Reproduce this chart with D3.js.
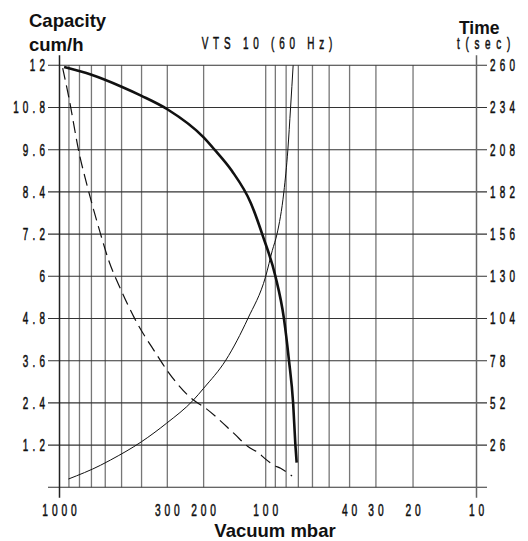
<!DOCTYPE html>
<html><head><meta charset="utf-8">
<script src="https://cdn.jsdelivr.net/npm/d3@7"></script>
<style>body{margin:0;background:#fff}svg{display:block}</style>
</head><body><svg id="c" width="528" height="541"></svg>
<script>
// ---- data ----
const capacityTicks = [1.2, 2.4, 3.6, 4.8, 6, 7.2, 8.4, 9.6, 10.8, 12];
const capacityLabels = ["1.2", "2.4", "3.6", "4.8", "6", "7.2", "8.4", "9.6", "10.8", "12"];
const timeTicks = [26, 52, 78, 104, 130, 156, 182, 208, 234, 260];
const vacuumLabels = [1000, 300, 200, 100, 40, 30, 20, 10];
const vacuumGrid = [900, 800, 700, 600, 500, 400, 300, 200, 100, 90, 80, 70, 60, 50, 40, 30, 20];

// capacity (cum/h) vs vacuum (mbar) – thick curve
const capVacuum = [950, 700, 500, 400, 300, 200, 177, 146, 118, 103, 90, 82, 77.6, 74.1, 72.3, 71.3];
const capValues = [11.95, 11.73, 11.39, 11.13, 10.75, 9.95, 9.6, 9.0, 8.08, 7.13, 6.01, 4.81, 3.62, 2.39, 1.2, 0.7];

// dashed curve (capacity scale)
const dashVacuum = [965, 900, 800, 736, 632, 578, 503, 433, 341, 298, 224, 200, 143, 122, 108, 101.5, 91.5, 85, 75];
const dashValues = [11.92, 11.07, 9.46, 8.6, 7.2, 6.46, 5.61, 4.81, 3.81, 3.29, 2.48, 2.29, 1.54, 1.16, 0.97, 0.83, 0.63, 0.54, 0.32];

// time t (sec) vs vacuum – thin curve
const timeVacuum = [905, 632, 566, 400, 303, 224, 200, 156, 122, 100, 93, 88.4, 82, 78.5, 76.2, 74.1];
const timeValues = [5.1, 13.6, 16.8, 28.1, 39.4, 53.8, 61, 78.4, 104, 130, 146, 156, 182, 208, 234, 260];

// ---- scales ----
const pLeft = 59.5, pRight = 476.5, pTop = 65.3, pBottom = 487.3;
const x = d3.scaleLog().domain([1000, 100, 10]).range([pLeft, 265.7, pRight]);
const y = d3.scaleLinear().domain([0, 12]).range([pBottom, pTop]);
const yT = d3.scaleLinear().domain([0, 260]).range([pBottom, pTop]);

const svg = d3.select("#c");
const techFont = "'Liberation Sans',Arial,sans-serif";
const bold = "'Liberation Sans',Arial,sans-serif";
const SX = 0.6; // horizontal compression for the narrow technical lettering

function narrowText(sel, anchor, size, spacing) {
  const shift = anchor === "end" ? spacing : anchor === "middle" ? spacing / 2 : 0;
  sel.append("text")
    .attr("x", shift).attr("y", 0)
    .attr("text-anchor", anchor)
    .attr("font-family", techFont).attr("font-size", size).attr("fill", "#111")
    .attr("stroke", "#111").attr("stroke-width", 0.55)
    .style("letter-spacing", spacing + "px");
  return sel.select("text");
}

// vertical grid
svg.append("g").selectAll("line").data(vacuumGrid).join("line")
  .attr("x1", d => x(d)).attr("x2", d => x(d))
  .attr("y1", pTop).attr("y2", pBottom)
  .attr("stroke", "#777").attr("stroke-width", 1.3);

// horizontal grid (incl. left/right tick extension)
svg.append("g").selectAll("line").data([0].concat(capacityTicks)).join("line")
  .attr("x1", pLeft - 11.5).attr("x2", pRight + 10.5)
  .attr("y1", d => y(d)).attr("y2", d => y(d))
  .attr("stroke", "#333").attr("stroke-width", 1.1);

// axes verticals
[1000, 10].forEach(v => {
  svg.append("line").attr("x1", x(v)).attr("x2", x(v))
    .attr("y1", pTop - 10).attr("y2", pBottom + 10.5)
    .attr("stroke", v === 1000 ? "#222" : "#666").attr("stroke-width", 1.5);
});

// left labels
narrowText(
  svg.append("g").selectAll("g").data(capacityTicks).join("g")
    .attr("transform", d => `translate(45,${y(d) + 5.9}) scale(${SX},1)`),
  "end", 16.5, 7).text((d, i) => capacityLabels[i]);

// right labels
narrowText(
  svg.append("g").selectAll("g").data(timeTicks).join("g")
    .attr("transform", d => `translate(490,${yT(d) + 5.9}) scale(${SX},1)`),
  "start", 16.5, 7).text(d => d);

// bottom labels
narrowText(
  svg.append("g").selectAll("g").data(vacuumLabels).join("g")
    .attr("transform", d => `translate(${x(d)},516) scale(${SX},1)`),
  "middle", 17, 6.5).text(d => d);

// curves
const line = d3.line().curve(d3.curveMonotoneX);
svg.append("path")
  .attr("d", line(dashVacuum.map((v, i) => [x(v), y(dashValues[i])])))
  .attr("fill", "none").attr("stroke", "#111").attr("stroke-width", 1.2)
  .attr("stroke-dasharray", "12,6");
svg.append("path")
  .attr("d", line(timeVacuum.map((v, i) => [x(v), yT(timeValues[i])])))
  .attr("fill", "none").attr("stroke", "#111").attr("stroke-width", 1);
svg.append("path")
  .attr("d", line(capVacuum.map((v, i) => [x(v), y(capValues[i])])))
  .attr("fill", "none").attr("stroke", "#111").attr("stroke-width", 2.6);

// titles
svg.append("text").attr("x", 29).attr("y", 27).attr("font-family", bold).attr("font-weight", "bold")
  .attr("font-size", 18.5).attr("fill", "#111").text("Capacity");
svg.append("text").attr("x", 29).attr("y", 51).attr("font-family", bold).attr("font-weight", "bold")
  .attr("font-size", 18.5).attr("fill", "#111").text("cum/h");
svg.append("text").attr("x", 459).attr("y", 33.5).attr("font-family", bold).attr("font-weight", "bold")
  .attr("font-size", 17.5).attr("fill", "#111").text("Time");
narrowText(svg.append("g").attr("transform", `translate(457,48.5) scale(${SX},1)`), "start", 16.5, 9.5)
  .text("t(sec)");
narrowText(svg.append("g").attr("transform", `translate(267,48.5) scale(${SX},1)`), "middle", 16.5, 8)
  .text("VTS 10 (60 Hz)");
svg.append("text").attr("x", 275).attr("y", 537).attr("text-anchor", "middle").attr("font-family", bold)
  .attr("font-weight", "bold").attr("font-size", 18.5).attr("fill", "#111").text("Vacuum mbar");
</script></body></html>
